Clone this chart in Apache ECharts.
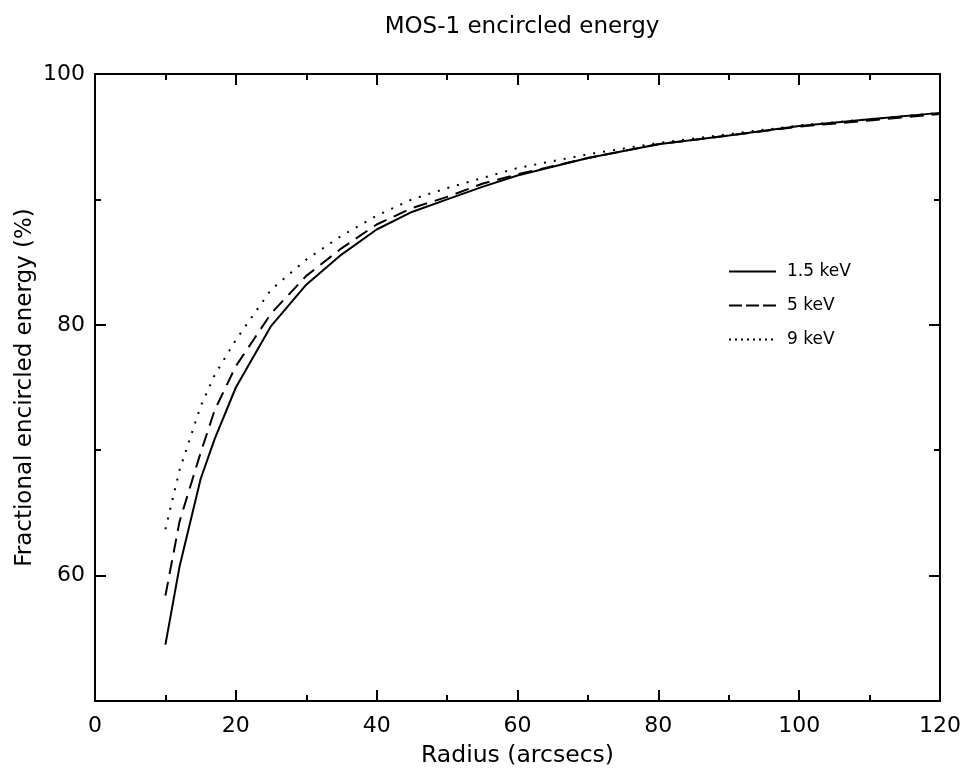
<!DOCTYPE html>
<html>
<head>
<meta charset="utf-8">
<script src="https://cdn.jsdelivr.net/npm/echarts@6/dist/echarts.min.js"></script>
<style>
html,body{margin:0;padding:0;background:#fff;}
#chart{width:966px;height:768px;}
</style>
</head>
<body>
<div id="chart"></div>
<script>
// radius (arcsec) and encircled energy (%)
var radius = [10, 12, 15, 17, 20, 25, 30, 35, 40, 45, 50, 55, 60, 70, 80, 90, 100, 110, 120];
var ee15 = [54.5, 60.7, 67.7, 70.9, 75.0, 79.9, 83.2, 85.6, 87.6, 89.0, 90.0, 91.0, 91.9, 93.3, 94.4, 95.1, 95.85, 96.4, 96.9];
var ee5 = [58.4, 64.3, 69.8, 73.2, 76.7, 80.9, 83.9, 86.1, 88.0, 89.3, 90.2, 91.25, 92.0, 93.3, 94.4, 95.1, 95.8, 96.3, 96.8];
var ee9 = [63.7, 68.4, 73.5, 76.0, 78.8, 82.8, 85.2, 87.1, 88.7, 90.0, 90.9, 91.7, 92.5, 93.6, 94.5, 95.2, 95.9, 96.4, 96.9];
var seriesNames = ['1.5 keV', '5 keV', '9 keV'];
var yLabelValues = [60, 80, 100];

var font = 'DejaVu Sans';

function pairs(ys){
	var out = [];
	for(var i=0;i<radius.length;i++){
		out.push([radius[i], ys[i]]);
	}
	return out;
}

function xAx(pos, showLabel){
	return {
		type: 'value', position: pos, min: 0, max: 120, interval: 20,
		name: showLabel ? 'Radius (arcsecs)' : '',
		nameLocation: 'middle', nameGap: 43,
		nameTextStyle: {color: '#000', fontFamily: font, fontSize: 23.5},
		axisLine: {show: true, onZero: false, lineStyle: {color: '#000', width: 2}},
		axisTick: {show: true, inside: true, length: 11, lineStyle: {color: '#000', width: 2}},
		minorTick: {show: true, splitNumber: 2, length: 6, lineStyle: {color: '#000', width: 2}},
		axisLabel: {show: showLabel, color: '#000', fontFamily: font, fontSize: 22, margin: 14},
		splitLine: {show: false}
	};
}

function yAx(pos, withLabels, major){
	var ax = {
		type: 'value', position: pos, min: 50, max: 100, interval: 10,
		name: withLabels ? 'Fractional encircled energy (%)' : '',
		nameLocation: 'middle', nameGap: 58, nameMoveOverlap: false,
		nameTextStyle: {color: '#000', fontFamily: font, fontSize: 23},
		axisLine: {show: true, onZero: false, lineStyle: {color: '#000', width: 2}},
		axisTick: {show: true, inside: true, length: major ? 11 : 6, lineStyle: {color: '#000', width: 2}},
		axisLabel: {show: withLabels, color: '#000', fontFamily: font, fontSize: 22, margin: 10},
		splitLine: {show: false}
	};
	if(major){
		ax.axisTick.customValues = yLabelValues;
		ax.axisLabel.customValues = yLabelValues;
	}
	return ax;
}

var myChart = echarts.init(document.getElementById('chart'));
var option = {
	backgroundColor: '#fff',
	animation: false,
	title: {
		text: 'MOS-1 encircled energy',
		left: 517, top: 11, textAlign: 'center',
		textStyle: {color: '#000', fontFamily: font, fontSize: 23, fontWeight: 'normal'}
	},
	grid: {left: 95, right: 26, top: 74, bottom: 67, outerBoundsMode: 'none'},
	legend: {
		orient: 'vertical', left: 723, top: 258,
		itemWidth: 47, itemHeight: 14, itemGap: 17,
		itemStyle: {opacity: 0},
		textStyle: {color: '#000', fontFamily: font, fontSize: 17, padding: [0, 0, 0, 6]},
		data: [
			{name: seriesNames[0]},
			{name: seriesNames[1], lineStyle: {type: [13, 4]}},
			{name: seriesNames[2], lineStyle: {type: [2, 4]}}
		]
	},
	xAxis: [xAx('bottom', true), xAx('top', false)],
	yAxis: [yAx('left', false, false), yAx('left', true, true), yAx('right', false, false), yAx('right', false, true)],
	series: [
		{name: seriesNames[0], type: 'line', data: pairs(ee15), symbol: 'none',
			lineStyle: {color: '#000', width: 2, type: 'solid'}, itemStyle: {color: '#000'}},
		{name: seriesNames[1], type: 'line', data: pairs(ee5), symbol: 'none',
			lineStyle: {color: '#000', width: 2, type: [14, 8]}, itemStyle: {color: '#000'}},
		{name: seriesNames[2], type: 'line', data: pairs(ee9), symbol: 'none',
			lineStyle: {color: '#000', width: 2, type: [2, 8]}, itemStyle: {color: '#000'}}
	]
};
myChart.setOption(option);
</script>
</body>
</html>
